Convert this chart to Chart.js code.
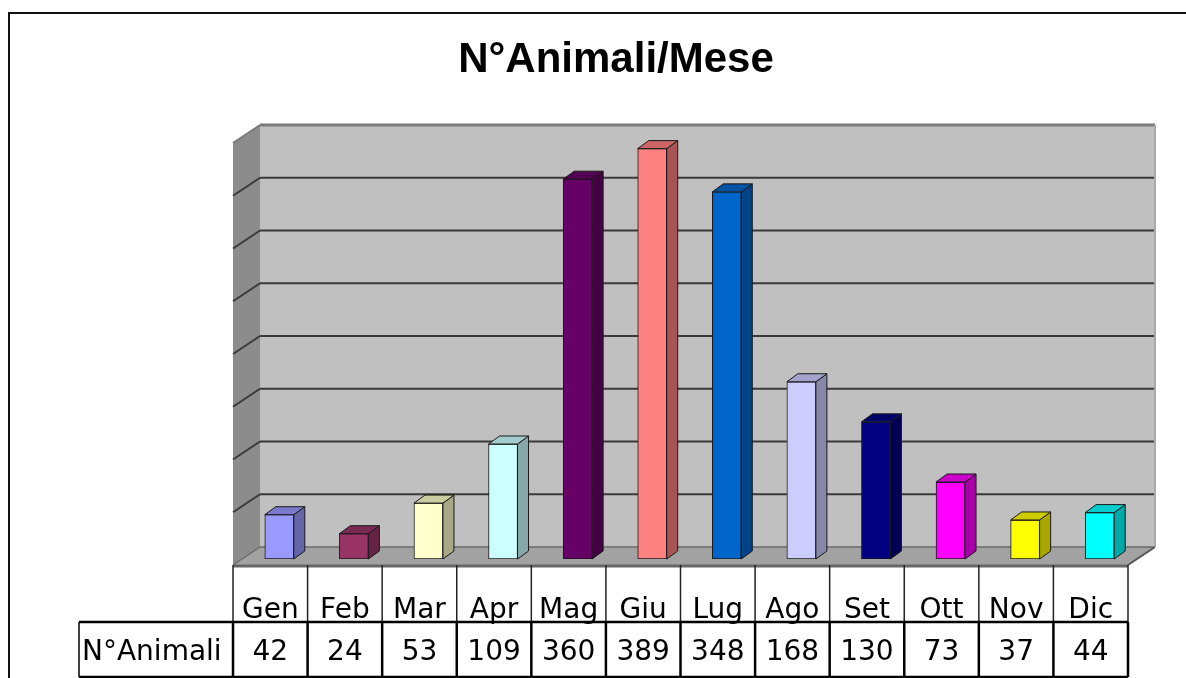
<!DOCTYPE html>
<html>
<head>
<meta charset="utf-8">
<title>N°Animali/Mese</title>
<script src="https://cdn.jsdelivr.net/npm/chart.js@4/dist/chart.umd.min.js"></script>
<style>
  html, body { margin: 0; padding: 0; background: #fff; }
  canvas { display: block; }
</style>
</head>
<body>
<canvas id="animali-chart" width="1186" height="678"></canvas>
<script>
const TITLE = 'N°Animali/Mese';
const SERIES_LABEL = 'N°Animali';
const MONTHS = ['Gen', 'Feb', 'Mar', 'Apr', 'Mag', 'Giu', 'Lug', 'Ago', 'Set', 'Ott', 'Nov', 'Dic'];
const ANIMALI = [42, 24, 53, 109, 360, 389, 348, 168, 130, 73, 37, 44];
const Y_MAX = 400;
const Y_STEP = 50;

const BAR_COLORS = ['#9999FF', '#993366', '#FFFFCC', '#CCFFFF', '#660066', '#FF8080',
                    '#0066CC', '#CCCCFF', '#000080', '#FF00FF', '#FFFF00', '#00FFFF'];

(function () {
  const canvas = document.getElementById('animali-chart');
  if (!canvas || typeof Chart === 'undefined') return;

  // box depth, bars stand at one third of it
  const DEPTH_X = 27, DEPTH_Y = 18, BAR_AT = 1 / 3;
  const fx = -DEPTH_X * BAR_AT, fy = DEPTH_Y * BAR_AT;
  const bx = DEPTH_X * (1 - BAR_AT), by = -DEPTH_Y * (1 - BAR_AT);
  const BAR_DX = 11, BAR_DY = 8;
  const ROW1_H = 57, ROW2_H = 55, LABEL_LEFT = 79;
  const TABLE_FONT = '28px "DejaVu Sans", sans-serif';

  const shade = (hex, k) => {
    const n = parseInt(hex.slice(1), 16);
    const c = [(n >> 16) & 255, (n >> 8) & 255, n & 255].map(v => Math.round(v * k));
    return `rgb(${c[0]},${c[1]},${c[2]})`;
  };

  const poly = (ctx, pts, fill, stroke, lw) => {
    ctx.beginPath();
    pts.forEach(([px, py], i) => (i ? ctx.lineTo(px, py) : ctx.moveTo(px, py)));
    ctx.closePath();
    if (fill) { ctx.fillStyle = fill; ctx.fill(); }
    if (stroke) { ctx.strokeStyle = stroke; ctx.lineWidth = lw || 1; ctx.stroke(); }
  };

  const line = (ctx, x1, y1, x2, y2, color, lw) => {
    ctx.beginPath();
    ctx.moveTo(x1, y1);
    ctx.lineTo(x2, y2);
    ctx.strokeStyle = color;
    ctx.lineWidth = lw;
    ctx.stroke();
  };

  const box3d = {
    id: 'box3d',
    beforeDatasetsDraw(chart) {
      const { ctx, chartArea: a, scales: { y } } = chart;
      const y0 = y.getPixelForValue(0), yt = y.getPixelForValue(Y_MAX);
      ctx.save();
      // left wall
      poly(ctx, [[a.left + fx, yt + fy], [a.left + bx, yt + by], [a.left + bx, y0 + by], [a.left + fx, y0 + fy]], '#8c8c8c');
      // back wall
      ctx.fillStyle = '#c0c0c0';
      ctx.fillRect(a.left + bx, yt + by, a.right - a.left, y0 - yt);
      // floor
      poly(ctx, [[a.left + fx, y0 + fy], [a.left + bx, y0 + by], [a.right + bx, y0 + by], [a.right + fx, y0 + fy]], '#a2a2a2');
      line(ctx, a.left + bx, y0 + by, a.right + bx, y0 + by, '#6a6a6a', 1.5);
      line(ctx, a.left + fx, y0 + fy, a.left + bx, y0 + by, '#6a6a6a', 1.5);
      line(ctx, a.right + fx, y0 + fy, a.right + bx, y0 + by, '#555', 2);
      line(ctx, a.left + fx, y0 + fy + 1, a.right + fx, y0 + fy + 1, '#666', 3);
      // gridlines
      for (let v = Y_STEP; v < Y_MAX; v += Y_STEP) {
        const yy = y.getPixelForValue(v);
        line(ctx, a.left + bx, yy + by, a.right + bx, yy + by, '#3a3a3a', 2);
        line(ctx, a.left + fx, yy + fy, a.left + bx, yy + by, '#3a3a3a', 2);
      }
      // top edges
      line(ctx, a.left + bx, yt + by, a.right + bx, yt + by, '#7a7a7a', 3);
      line(ctx, a.left + fx, yt + fy, a.left + bx, yt + by, '#7a7a7a', 2);
      line(ctx, a.right + bx, yt + by, a.right + bx, y0 + by, '#a8a8a8', 2);
      ctx.restore();
    },
    afterDatasetsDraw(chart) {
      const { ctx } = chart;
      const meta = chart.getDatasetMeta(0);
      ctx.save();
      ctx.lineJoin = 'round';
      meta.data.forEach((bar, i) => {
        const { x, y, base, width } = bar.getProps(['x', 'y', 'base', 'width'], true);
        const l = x - width / 2, r = x + width / 2;
        const col = BAR_COLORS[i];
        poly(ctx, [[r, y], [r + BAR_DX, y - BAR_DY], [r + BAR_DX, base - BAR_DY], [r, base]], shade(col, 0.66), '#1a1a1a', 1);
        poly(ctx, [[l, y], [l + BAR_DX, y - BAR_DY], [r + BAR_DX, y - BAR_DY], [r, y]], shade(col, 0.8), '#1a1a1a', 1);
      });
      ctx.restore();
    },
    afterDraw(chart) {
      const { ctx, chartArea: a, scales: { x, y } } = chart;
      const cw = (a.right - a.left) / MONTHS.length;
      const top1 = y.getPixelForValue(0) + fy;
      const top2 = top1 + ROW1_H, bot = top2 + ROW2_H;
      const tl = a.left + fx, tr = a.right + fx;
      ctx.save();
      // frame
      line(ctx, 9, 13, 1186, 13, '#111', 2);
      line(ctx, 9, 12, 9, 678, '#111', 2);
      // title
      ctx.fillStyle = '#000';
      ctx.font = 'bold 42px "Liberation Sans", Arial, sans-serif';
      ctx.textAlign = 'center';
      ctx.textBaseline = 'alphabetic';
      ctx.fillText(TITLE, 616, 72);
      // table grid
      for (let i = 0; i <= MONTHS.length; i++) {
        const cx = tl + i * cw;
        line(ctx, cx, top1, cx, top2, '#222', 1.5);
        line(ctx, cx, top2, cx, bot, '#000', 2.5);
      }
      line(ctx, LABEL_LEFT, top2, tr, top2, '#000', 2.5);
      line(ctx, LABEL_LEFT, bot, tr, bot, '#000', 2.5);
      line(ctx, LABEL_LEFT, top2, LABEL_LEFT, bot, '#000', 1.5);
      // table text
      ctx.font = TABLE_FONT;
      ctx.fillStyle = '#000';
      MONTHS.forEach((m, i) => {
        const cx = x.getPixelForValue(i) + fx;
        ctx.fillText(m, cx, top2 - 4);
        ctx.fillText(String(chart.data.datasets[0].data[i]), cx, top2 + 38);
      });
      ctx.textAlign = 'left';
      ctx.fillText(SERIES_LABEL, LABEL_LEFT + 3, top2 + 38);
      ctx.restore();
    }
  };

  new Chart(canvas, {
    type: 'bar',
    data: {
      labels: MONTHS,
      datasets: [{
        label: SERIES_LABEL,
        data: ANIMALI,
        backgroundColor: BAR_COLORS,
        borderColor: '#1a1a1a',
        borderWidth: 1,
        borderSkipped: false,
        barThickness: 29
      }]
    },
    options: {
      responsive: false,
      animation: false,
      devicePixelRatio: 1,
      layout: { padding: { left: 242, right: 49, top: 137, bottom: 119 } },
      scales: {
        x: { display: false },
        y: { display: false, min: 0, max: Y_MAX }
      },
      plugins: {
        legend: { display: false },
        title: { display: false },
        tooltip: { enabled: true }
      }
    },
    plugins: [box3d]
  });
})();
</script>
</body>
</html>
